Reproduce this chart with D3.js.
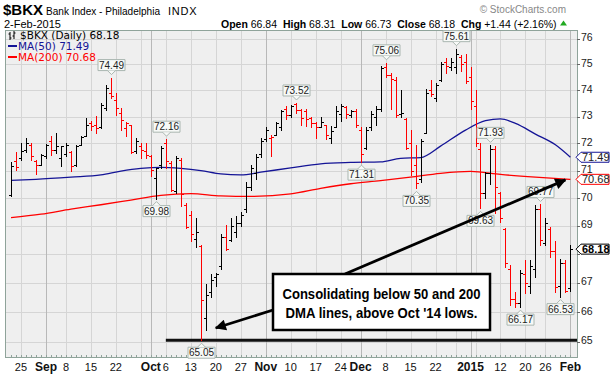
<!DOCTYPE html>
<html>
<head>
<meta charset="utf-8">
<script src="https://cdn.jsdelivr.net/npm/d3@7"></script>
<style>
  body { margin: 0; background: #fff; }
  svg { display: block; font-family: "Liberation Sans", Arial, sans-serif; }
</style>
</head>
<body>
<div id="chart-area"></div>
<script>
// trading days shown, Aug 21 2014 - Feb 2 2015
const tradingDays = {
  "2014-08": [21, 22, 25, 26, 27, 28, 29],
  "2014-09": [2, 3, 4, 5, 8, 9, 10, 11, 12, 15, 16, 17, 18, 19, 22, 23, 24, 25, 26, 29, 30],
  "2014-10": [1, 2, 3, 6, 7, 8, 9, 10, 13, 14, 15, 16, 17, 20, 21, 22, 23, 24, 27, 28, 29, 30, 31],
  "2014-11": [3, 4, 5, 6, 7, 10, 11, 12, 13, 14, 17, 18, 19, 20, 21, 24, 25, 26, 28],
  "2014-12": [1, 2, 3, 4, 5, 8, 9, 10, 11, 12, 15, 16, 17, 18, 19, 22, 23, 24, 26, 29, 30, 31],
  "2015-01": [2, 5, 6, 7, 8, 9, 12, 13, 14, 15, 16, 20, 21, 22, 23, 26, 27, 28, 29, 30],
  "2015-02": [2]
};
const dates = Object.entries(tradingDays).flatMap(([m, ds]) =>
  ds.map(d => `${m}-${String(d).padStart(2, "0")}`)
);

// daily OHLC
const open = [
  70.11, 71.34, 71.46, 71.77, 71.96, 71.34, 71.22, 71.52, 72.08, 71.77,
  71.45, 71.60, 71.70, 71.22, 71.93, 72.27, 72.77, 72.70, 72.61, 73.33,
  73.90, 73.65, 73.14, 72.58, 72.70, 71.71, 71.90, 71.71, 71.52, 70.73,
  71.22, 72.02, 71.28, 70.25, 71.40, 69.76, 69.40, 68.55, 68.30, 65.80,
  66.70, 67.20, 67.60, 68.60, 68.50, 68.80, 69.10, 69.60, 70.40, 70.90,
  71.60, 72.15, 72.20, 72.30, 72.60, 73.30, 73.05, 73.50, 73.25, 73.20,
  72.95, 72.75, 72.60, 72.70, 72.20, 72.60, 73.10, 73.35, 73.05, 73.20,
  72.50, 71.85, 72.60, 73.00, 73.30, 74.90, 74.60, 74.40, 73.10, 72.90,
  72.00, 71.20, 70.70, 72.40, 74.00, 73.70, 74.40, 75.10, 74.90, 74.90,
  75.30, 75.10, 74.50, 73.40, 71.80, 70.20, 70.90, 71.80, 70.20, 68.90,
  67.50, 66.45, 66.30, 67.30, 66.90, 67.50, 69.60, 68.40, 68.90, 68.10,
  66.90, 67.70, 66.84
];
const high = [
  71.30, 71.69, 72.02, 72.21, 72.02, 71.40, 71.61, 71.99, 72.27, 72.39,
  71.92, 72.02, 71.71, 71.96, 72.27, 72.95, 72.83, 73.01, 73.51, 74.22,
  74.49, 73.90, 73.33, 72.79, 72.70, 72.21, 72.02, 72.02, 71.59, 71.09,
  71.90, 72.16, 71.34, 71.52, 71.46, 69.82, 69.52, 69.30, 68.34, 66.95,
  67.30, 67.35, 68.70, 69.05, 69.30, 69.35, 69.50, 70.60, 71.20, 71.60,
  72.20, 72.60, 72.30, 72.80, 73.25, 73.40, 73.45, 73.52, 73.30, 73.30,
  73.00, 72.80, 73.00, 72.70, 72.65, 73.40, 73.50, 73.40, 73.25, 73.30,
  72.60, 72.60, 73.20, 73.40, 74.95, 75.06, 74.65, 74.50, 74.00, 72.95,
  72.50, 71.96, 72.15, 74.05, 74.40, 74.30, 75.10, 75.25, 75.25, 75.61,
  75.35, 75.40, 74.90, 74.00, 72.00, 70.95, 71.93, 71.90, 70.23, 68.91,
  67.62, 66.70, 67.45, 67.80, 67.80, 69.75, 69.77, 69.27, 68.97, 68.45,
  67.85, 67.80, 68.31
];
const low = [
  70.09, 71.03, 71.40, 71.69, 71.40, 70.89, 71.19, 71.46, 71.56, 71.65,
  71.16, 71.52, 70.97, 71.16, 71.93, 72.27, 72.52, 72.39, 72.58, 73.27,
  73.71, 73.08, 72.52, 72.27, 71.65, 71.65, 71.46, 71.46, 70.79, 69.98,
  71.09, 71.09, 70.25, 70.19, 69.70, 68.93, 68.46, 68.27, 65.05, 65.40,
  66.50, 66.90, 67.50, 68.15, 68.45, 68.60, 69.00, 69.50, 70.30, 70.70,
  71.50, 72.10, 71.55, 72.30, 72.50, 72.90, 73.00, 73.15, 72.70, 72.65,
  72.60, 72.20, 72.60, 72.15, 72.00, 72.60, 72.85, 72.95, 73.00, 72.60,
  71.31, 71.80, 72.50, 72.70, 73.20, 74.50, 73.30, 73.00, 73.00, 71.80,
  70.85, 70.35, 70.60, 72.40, 73.80, 73.60, 74.35, 74.65, 74.80, 74.65,
  74.75, 74.30, 73.30, 71.90, 69.63, 70.00, 70.50, 69.45, 69.15, 67.56,
  66.25, 66.18, 66.17, 66.64, 66.64, 67.22, 68.33, 68.33, 67.91, 66.70,
  66.53, 66.70, 66.73
];
const close = [
  71.16, 71.12, 71.71, 72.02, 71.52, 71.22, 71.56, 71.93, 71.77, 71.90,
  71.90, 71.96, 71.16, 71.90, 72.23, 72.70, 72.64, 72.58, 73.45, 74.09,
  73.78, 73.33, 72.89, 72.77, 71.69, 72.08, 71.77, 71.56, 71.03, 71.09,
  71.84, 71.34, 70.31, 71.46, 70.13, 68.95, 68.70, 68.80, 66.40, 66.60,
  67.10, 67.30, 68.60, 68.20, 69.00, 69.10, 69.40, 70.40, 71.10, 71.50,
  72.10, 72.50, 72.25, 72.75, 73.20, 73.05, 73.40, 73.25, 72.95, 72.90,
  72.75, 72.60, 72.80, 72.30, 72.45, 73.20, 73.40, 73.10, 73.20, 72.70,
  71.60, 72.50, 73.10, 73.30, 74.85, 74.60, 74.45, 73.05, 73.15, 71.85,
  71.00, 70.55, 72.10, 73.90, 73.85, 74.20, 75.00, 74.95, 75.10, 75.40,
  75.00, 74.35, 73.60, 72.00, 70.20, 70.90, 71.80, 70.40, 69.30, 67.70,
  66.45, 66.30, 67.35, 67.00, 67.60, 69.60, 68.50, 69.10, 68.10, 66.85,
  67.70, 66.74, 68.18
];

const ma50Dates = ["2014-08-21", "2014-08-28", "2014-09-09", "2014-09-17", "2014-09-23", "2014-09-29",
  "2014-10-03", "2014-10-09", "2014-10-15", "2014-10-21", "2014-10-27", "2014-10-31", "2014-11-10",
  "2014-11-18", "2014-11-26", "2014-12-05", "2014-12-11", "2014-12-17", "2014-12-23", "2014-12-31",
  "2015-01-07", "2015-01-12", "2015-01-15", "2015-01-22", "2015-01-28", "2015-02-02"];
const ma50Values = [70.64, 70.68, 70.76, 70.84, 70.98, 71.08, 71.12, 71.08, 71.0, 70.88, 70.84, 70.94,
  71.1, 71.25, 71.3, 71.32, 71.45, 71.48, 71.9, 72.5, 72.85, 72.92, 72.75, 72.35, 71.95, 71.49];
const ma200Dates = ["2014-08-21", "2014-08-29", "2014-09-09", "2014-09-17", "2014-09-25", "2014-10-03",
  "2014-10-13", "2014-10-21", "2014-10-29", "2014-11-10", "2014-11-18", "2014-11-26", "2014-12-05",
  "2014-12-15", "2014-12-23", "2015-01-02", "2015-01-12", "2015-01-22", "2015-02-02"];
const ma200Values = [69.3, 69.42, 69.6, 69.76, 69.93, 70.1, 70.16, 70.08, 70.06, 70.15, 70.35, 70.52,
  70.63, 70.76, 70.9, 70.97, 70.86, 70.76, 70.68];

// labelled highs and lows
const peakDates = ["2014-09-19", "2014-10-06", "2014-11-11", "2014-12-08", "2014-12-29", "2015-01-08", "2015-01-23"];
const peakValues = [74.49, 72.16, 73.52, 75.06, 75.61, 71.93, 69.77];
const troughDates = ["2014-10-02", "2014-10-15", "2014-12-01", "2014-12-16", "2015-01-06", "2015-01-16", "2015-01-29"];
const troughValues = [69.98, 65.05, 71.31, 70.35, 69.63, 66.17, 66.53];

const priceTicks = [65, 66, 67, 68, 69, 70, 71, 72, 73, 74, 75, 76];
const xTickDates = ["2014-08-25", "2014-09-02", "2014-09-08", "2014-09-15", "2014-09-22", "2014-10-01",
  "2014-10-06", "2014-10-13", "2014-10-20", "2014-10-27", "2014-11-03", "2014-11-10", "2014-11-17",
  "2014-11-24", "2014-12-01", "2014-12-08", "2014-12-15", "2014-12-22", "2015-01-02", "2015-01-12",
  "2015-01-20", "2015-01-26", "2015-02-02"];
const xTickLabels = ["25", "Sep", "8", "15", "22", "Oct", "6", "13", "20", "27", "Nov", "10", "17",
  "24", "Dec", "8", "15", "22", "2015", "12", "20", "26", "Feb"];

const supportLevel = 65.05;
const supportFrom = "2014-10-06";

const canvas_dims = { width: 614, height: 376 };
const frame = { left: 5, right: 577, top: 30, bottom: 357 };

const svg = d3
  .select("#chart-area")
  .append("svg")
  .attr("width", canvas_dims.width)
  .attr("height", canvas_dims.height);

const scales = {
  x: d3.scalePoint().domain(dates).range([11, 570.4]),
  y: d3.scaleLog().domain([65, 76]).range([341.7, 38.7])
};
const px = d => Math.round(scales.x(d)) + 0.5;

// plot background
svg.append("rect")
  .attr("x", frame.left).attr("y", frame.top)
  .attr("width", frame.right - frame.left).attr("height", frame.bottom - frame.top)
  .attr("fill", "#efefef");

// grid
const weekStarts = dates.filter((d, i) => i > 0 &&
  (new Date(d).getUTCDay() < new Date(dates[i - 1]).getUTCDay() || d.slice(5, 7) !== dates[i - 1].slice(5, 7)));
const monthStarts = dates.filter((d, i) => i > 0 && d.slice(5, 7) !== dates[i - 1].slice(5, 7));

svg.append("g").selectAll("line").data(priceTicks).enter().append("line")
  .attr("x1", frame.left).attr("x2", frame.right)
  .attr("y1", d => Math.round(scales.y(d)) + 0.5).attr("y2", d => Math.round(scales.y(d)) + 0.5)
  .attr("stroke", "#d5d5d5");

svg.append("g").selectAll("line").data(weekStarts).enter().append("line")
  .attr("x1", px).attr("x2", px)
  .attr("y1", frame.top).attr("y2", frame.bottom)
  .attr("stroke", d => (monthStarts.includes(d) ? "#b8b8b8" : "#d5d5d5"));

// frame + day ticks
svg.append("rect")
  .attr("x", frame.left + 0.5).attr("y", frame.top + 0.5)
  .attr("width", frame.right - frame.left).attr("height", frame.bottom - frame.top)
  .attr("fill", "none").attr("stroke", "#8fa39a");
svg.append("g").selectAll("line").data(dates).enter().append("line")
  .attr("x1", px).attr("x2", px)
  .attr("y1", frame.bottom - 2).attr("y2", frame.bottom)
  .attr("stroke", "#8fa39a");

// support line at the October low
svg.append("line")
  .attr("x1", scales.x(supportFrom)).attr("x2", frame.right)
  .attr("y1", scales.y(supportLevel)).attr("y2", scales.y(supportLevel))
  .attr("stroke", "#111").attr("stroke-width", 3);

// moving averages
const maLine = (ds, vs) => d3.line().curve(d3.curveMonotoneX)(ds.map((d, i) => [scales.x(d), scales.y(vs[i])]));
svg.append("path").attr("d", maLine(ma200Dates, ma200Values))
  .attr("fill", "none").attr("stroke", "#ff0000").attr("stroke-width", 1.3);
svg.append("path").attr("d", maLine(ma50Dates, ma50Values))
  .attr("fill", "none").attr("stroke", "#141496").attr("stroke-width", 1.3);

// OHLC bars, red when the close is below the prior close
const bars = dates.map((d, i) => ({
  date: d, o: open[i], h: high[i], l: low[i], c: close[i],
  down: i > 0 && close[i] < close[i - 1]
}));
svg.append("g").selectAll("path").data(bars).enter().append("path")
  .attr("d", d => {
    const x = px(d.date);
    const yo = Math.round(scales.y(d.o)) + 0.5, yc = Math.round(scales.y(d.c)) + 0.5;
    return `M${x},${Math.round(scales.y(d.h))}V${Math.round(scales.y(d.l)) + 1}` +
      `M${x - 2.5},${yo}H${x}M${x},${yc}H${x + 2.5}`;
  })
  .attr("fill", "none")
  .attr("stroke", d => (d.down ? "#ff0000" : "#000"))
  .attr("stroke-width", 1)
  .attr("shape-rendering", "crispEdges");

// high / low callouts
const callout = (g, date, value, above) => {
  const cx = px(date), yv = scales.y(value);
  const bw = 27, bh = 11;
  const tip = above ? yv - 3 : yv + 3;
  const by = above ? tip - 4 - bh : tip + 4;
  const edge = above ? by + bh : by;
  g.append("path")
    .attr("d", `M${cx - bw / 2},${by}h${bw}v${bh}h${-bw}Z`)
    .attr("fill", "#f7f9f7").attr("stroke", "#a9b6b0");
  g.append("path")
    .attr("d", `M${cx - 4},${edge}L${cx},${tip}L${cx + 4},${edge}`)
    .attr("fill", "#f7f9f7").attr("stroke", "#a9b6b0");
  g.append("text")
    .attr("x", cx).attr("y", by + bh - 2)
    .attr("text-anchor", "middle").attr("font-size", "10px").attr("fill", "#222")
    .text(value.toFixed(2));
};
const calloutLayer = svg.append("g");
peakDates.forEach((d, i) => callout(calloutLayer, d, peakValues[i], true));
troughDates.forEach((d, i) => callout(calloutLayer, d, troughValues[i], false));

// right axis
const lastClose = close[close.length - 1];
const yAxis = svg.append("g").attr("font-size", "10.5px");
yAxis.selectAll("line").data(priceTicks).enter().append("line")
  .attr("x1", frame.right).attr("x2", frame.right + 3)
  .attr("y1", d => Math.round(scales.y(d)) + 0.5).attr("y2", d => Math.round(scales.y(d)) + 0.5)
  .attr("stroke", "#666");
yAxis.selectAll("text")
  .data(priceTicks.filter(t => Math.abs(scales.y(t) - scales.y(lastClose)) > 7))
  .enter().append("text")
  .attr("x", frame.right + 4).attr("y", d => scales.y(d) + 2.5)
  .attr("fill", "#222")
  .text(d => d);

// last value tags on the axis
const tag = (value, color, bold) => {
  const yv = scales.y(value), x0 = frame.right - 1;
  yAxis.append("path")
    .attr("d", `M${x0},${yv}l5,-5h28v10h-28Z`)
    .attr("fill", "#fff").attr("stroke", color);
  yAxis.append("text")
    .attr("x", x0 + 6).attr("y", yv + 4)
    .attr("font-size", "11px")
    .attr("font-weight", bold ? "bold" : "normal")
    .attr("fill", bold ? "#000" : "#222")
    .text(value.toFixed(2));
};
tag(ma50Values[ma50Values.length - 1], "#141496", false);
tag(ma200Values[ma200Values.length - 1], "#ff0000", false);
tag(lastClose, "#000", true);

// bottom axis labels
svg.append("g").selectAll("text").data(xTickDates).enter().append("text")
  .attr("x", d => scales.x(d))
  .attr("y", 371)
  .attr("text-anchor", "middle")
  .attr("font-size", (d, i) => (xTickLabels[i].length > 2 ? "12px" : "11px"))
  .attr("font-weight", (d, i) => (xTickLabels[i].length > 2 ? "bold" : "normal"))
  .attr("fill", "#111")
  .text((d, i) => xTickLabels[i]);

// legend
const legend = svg.append("g").attr("font-family", "'DejaVu Sans', Verdana, sans-serif").attr("font-size", "10.5px");
legend.append("path").attr("d", "M10,32V40M8.5,34H10M10,38H11.5M14,31V39M12.5,36H14M14,33H15.5")
  .attr("stroke", "#000").attr("fill", "none");
legend.append("text").attr("x", 20).attr("y", 39).attr("fill", "#000")
  .text(`$BKX (Daily) ${lastClose.toFixed(2)}`);
legend.append("line").attr("x1", 8).attr("x2", 17).attr("y1", 46).attr("y2", 46)
  .attr("stroke", "#141496").attr("stroke-width", 2);
legend.append("text").attr("x", 18).attr("y", 50).attr("fill", "#141496")
  .text(`MA(50) ${ma50Values[ma50Values.length - 1].toFixed(2)}`);
legend.append("line").attr("x1", 8).attr("x2", 17).attr("y1", 57).attr("y2", 57)
  .attr("stroke", "#ff0000").attr("stroke-width", 2);
legend.append("text").attr("x", 18).attr("y", 61).attr("fill", "#ff0000")
  .text(`MA(200) ${ma200Values[ma200Values.length - 1].toFixed(2)}`);

// header
const header = svg.append("g").attr("fill", "#000");
header.append("text").attr("x", 3).attr("y", 15).attr("font-size", "15px").attr("font-weight", "bold").text("$BKX");
header.append("text").attr("x", 46).attr("y", 14.5).attr("font-size", "11px")
  .attr("textLength", 114).attr("lengthAdjust", "spacingAndGlyphs").text("Bank Index - Philadelphia");
header.append("text").attr("x", 168).attr("y", 14.5).attr("font-size", "11px").attr("letter-spacing", "0.8").text("INDX");
header.append("text").attr("x", 566).attr("y", 13).attr("font-size", "10px").attr("fill", "#888")
  .attr("text-anchor", "end").text("\u00A9 StockCharts.com");
header.append("text").attr("x", 4).attr("y", 27.5).attr("font-size", "11px").text("2-Feb-2015");
const quote = header.append("text").attr("x", 221).attr("y", 27.5).attr("font-size", "10.5px")
  .attr("style", "white-space:pre");
[["Open", " 66.84  "], ["High", " 68.31  "], ["Low", " 66.73  "], ["Close", " 68.18  "], ["Chg", " +1.44 (+2.16%)"]]
  .forEach(([k, v]) => {
    quote.append("tspan").attr("font-weight", "bold").text(k);
    quote.append("tspan").text(v);
  });
header.append("path").attr("d", "M560,25.5l3.5,-5l3.5,5Z").attr("fill", "#22aa22");

// annotation
const note = { x: 273, y: 274, w: 217, h: 56 };
const defs = svg.append("defs");
defs.append("marker").attr("id", "head").attr("viewBox", "0 0 10 10")
  .attr("refX", 9).attr("refY", 5).attr("markerWidth", 5).attr("markerHeight", 4)
  .attr("orient", "auto")
  .append("path").attr("d", "M0,0L10,5L0,10Z").attr("fill", "#000");
svg.append("line")
  .attr("x1", note.x).attr("y1", 310)
  .attr("x2", scales.x("2014-10-20")).attr("y2", scales.y(65.46))
  .attr("stroke", "#000").attr("stroke-width", 2.8).attr("marker-end", "url(#head)");
svg.append("line")
  .attr("x1", 345).attr("y1", note.y)
  .attr("x2", scales.x("2015-01-30")).attr("y2", scales.y(70.66))
  .attr("stroke", "#000").attr("stroke-width", 2.8).attr("marker-end", "url(#head)");
svg.append("rect")
  .attr("x", note.x).attr("y", note.y).attr("width", note.w).attr("height", note.h)
  .attr("fill", "#fff").attr("stroke", "#000").attr("stroke-width", 2.5);
const noteText = svg.append("text").attr("font-weight", "bold").attr("font-size", "15px")
  .attr("text-anchor", "middle").attr("fill", "#000");
noteText.append("tspan").attr("x", note.x + note.w / 2).attr("y", 299)
  .attr("textLength", 198).attr("lengthAdjust", "spacingAndGlyphs").text("Consolidating below 50 and 200");
noteText.append("tspan").attr("x", note.x + note.w / 2).attr("y", 318)
  .attr("textLength", 192).attr("lengthAdjust", "spacingAndGlyphs").text("DMA lines, above Oct '14 lows.");
</script>
</body>
</html>
